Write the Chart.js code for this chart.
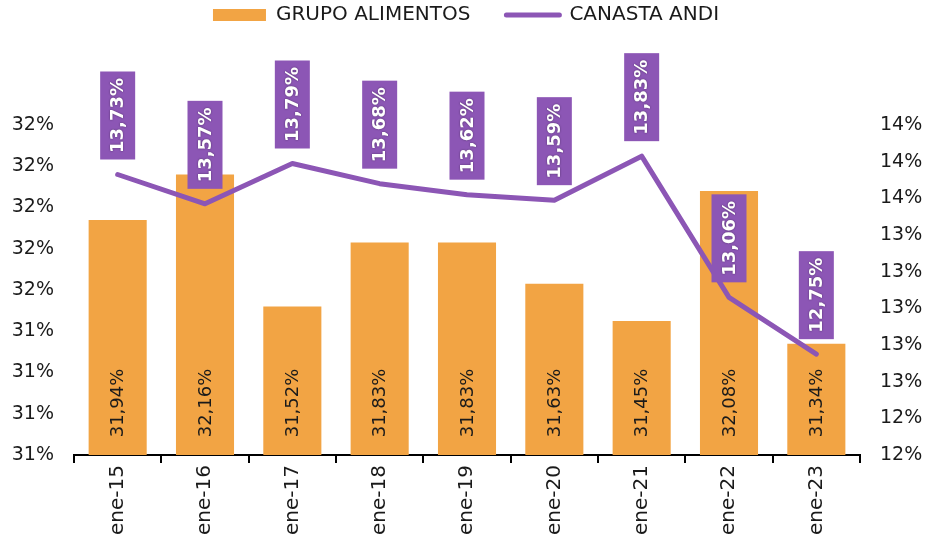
<!DOCTYPE html>
<html>
<head>
<meta charset="utf-8">
<script src="https://cdn.jsdelivr.net/npm/chart.js@4.4.1/dist/chart.umd.min.js"></script>
<style>
    html, body { margin: 0; padding: 0; background: #ffffff; }
    #wrap { width: 932px; height: 546px; }
</style>
</head>
<body>
<div id="wrap"><canvas id="chart" width="932" height="546"></canvas></div>
<script>
const categories = ["ene-15", "ene-16", "ene-17", "ene-18", "ene-19", "ene-20", "ene-21", "ene-22", "ene-23"];
const grupoAlimentos = [31.94, 32.16, 31.52, 31.83, 31.83, 31.63, 31.45, 32.08, 31.34];
const canastaAndi = [13.73, 13.57, 13.79, 13.68, 13.62, 13.59, 13.83, 13.06, 12.75];

const ORANGE = "#F2A444";
const PURPLE = "#8C56B5";
const FONT = "'DejaVu Sans', sans-serif";

function pct(value) {
    return value.toFixed(2).replace(".", ",") + "%";
}

// Pushes the plot area down so the boxed line labels fit under the legend,
// and lifts the legend row back up to the top edge.
const legendMargin = {
    id: "legendMargin",
    beforeInit: function (chart) {
        const fit = chart.legend.fit;
        chart.legend.fit = function () {
            fit.bind(chart.legend)();
            this.height = 125;
        };
    },
    afterLayout: function (chart) {
        chart.legend.top = -31;
    }
};

const valueLabels = {
    id: "valueLabels",
    afterDatasetsDraw: function (chart) {
        const ctx = chart.ctx;
        const bars = chart.getDatasetMeta(0).data;
        const points = chart.getDatasetMeta(1).data;

        ctx.save();
        ctx.textAlign = "center";
        ctx.textBaseline = "middle";

        // bar values, rotated, near the base
        ctx.font = "18px " + FONT;
        ctx.fillStyle = "#1a1a1a";
        bars.forEach(function (bar, i) {
            ctx.save();
            ctx.translate(bar.x, 403);
            ctx.rotate(-Math.PI / 2);
            ctx.fillText(pct(grupoAlimentos[i]), 0, 1);
            ctx.restore();
        });

        // line values in purple boxes above each point
        ctx.font = "bold 18px " + FONT;
        points.forEach(function (pt, i) {
            const w = 35;
            const h = 88;
            const bottom = pt.y - 15;
            ctx.fillStyle = PURPLE;
            ctx.fillRect(pt.x - w / 2, bottom - h, w, h);
            ctx.save();
            ctx.translate(pt.x, bottom - h / 2);
            ctx.rotate(-Math.PI / 2);
            ctx.shadowColor = "rgba(0, 0, 0, 0.45)";
            ctx.shadowBlur = 2;
            ctx.fillStyle = "#ffffff";
            ctx.fillText(pct(canastaAndi[i]), 0, 1);
            ctx.restore();
        });

        ctx.restore();
    }
};

new Chart(document.getElementById("chart"), {
    type: "bar",
    data: {
        labels: categories,
        datasets: [
            {
                type: "bar",
                label: "GRUPO ALIMENTOS",
                data: grupoAlimentos,
                backgroundColor: ORANGE,
                borderWidth: 0,
                barPercentage: 0.665,
                categoryPercentage: 1,
                yAxisID: "y",
                order: 1
            },
            {
                type: "line",
                label: "CANASTA ANDI",
                data: canastaAndi,
                borderColor: PURPLE,
                backgroundColor: PURPLE,
                borderWidth: 5,
                pointRadius: 0,
                borderCapStyle: "round",
                borderJoinStyle: "round",
                tension: 0,
                yAxisID: "y1",
                order: 0
            }
        ]
    },
    options: {
        responsive: false,
        animation: false,
        layout: { padding: { left: 0, right: 0, top: 0, bottom: 0 } },
        plugins: {
            tooltip: { enabled: false },
            legend: {
                position: "top",
                labels: {
                    usePointStyle: true,
                    pointStyleWidth: 53,
                    boxHeight: 12,
                    padding: 36,
                    color: "#1a1a1a",
                    font: { family: FONT, size: 20 },
                    generateLabels: function (chart) {
                        return chart.data.datasets.map(function (ds, i) {
                            return {
                                text: ds.label,
                                fillStyle: i ? PURPLE : ORANGE,
                                strokeStyle: i ? PURPLE : ORANGE,
                                lineWidth: i ? 5 : 0,
                                lineCap: "round",
                                pointStyle: i ? "line" : "rect",
                                fontColor: "#1a1a1a",
                                hidden: false,
                                datasetIndex: i
                            };
                        });
                    }
                }
            }
        },
        scales: {
            x: {
                offset: true,
                grid: {
                    offset: true,
                    drawOnChartArea: false,
                    drawTicks: true,
                    tickLength: 8,
                    color: "#000000",
                    lineWidth: 2
                },
                border: { display: true, color: "#000000", width: 2 },
                ticks: {
                    color: "#1a1a1a",
                    font: { family: FONT, size: 20 },
                    maxRotation: 90,
                    minRotation: 90,
                    padding: 2
                },
                afterFit: function (scale) { scale.height = 91; }
            },
            y: {
                position: "left",
                min: 30.8,
                max: 32.4,
                grid: { display: false, drawTicks: false },
                border: { display: false },
                ticks: {
                    stepSize: 0.2,
                    padding: 20,
                    color: "#1a1a1a",
                    font: { family: FONT, size: 19 },
                    callback: function (value) { return Math.round(value) + "%"; }
                },
                afterFit: function (scale) { scale.width = 74; }
            },
            y1: {
                position: "right",
                min: 12.2,
                max: 14.0,
                grid: { display: false, drawTicks: false },
                border: { display: false },
                ticks: {
                    stepSize: 0.2,
                    padding: 20,
                    color: "#1a1a1a",
                    font: { family: FONT, size: 19 },
                    callback: function (value) { return Math.round(value) + "%"; }
                },
                afterFit: function (scale) { scale.width = 72; }
            }
        }
    },
    plugins: [legendMargin, valueLabels]
});
</script>
</body>
</html>
